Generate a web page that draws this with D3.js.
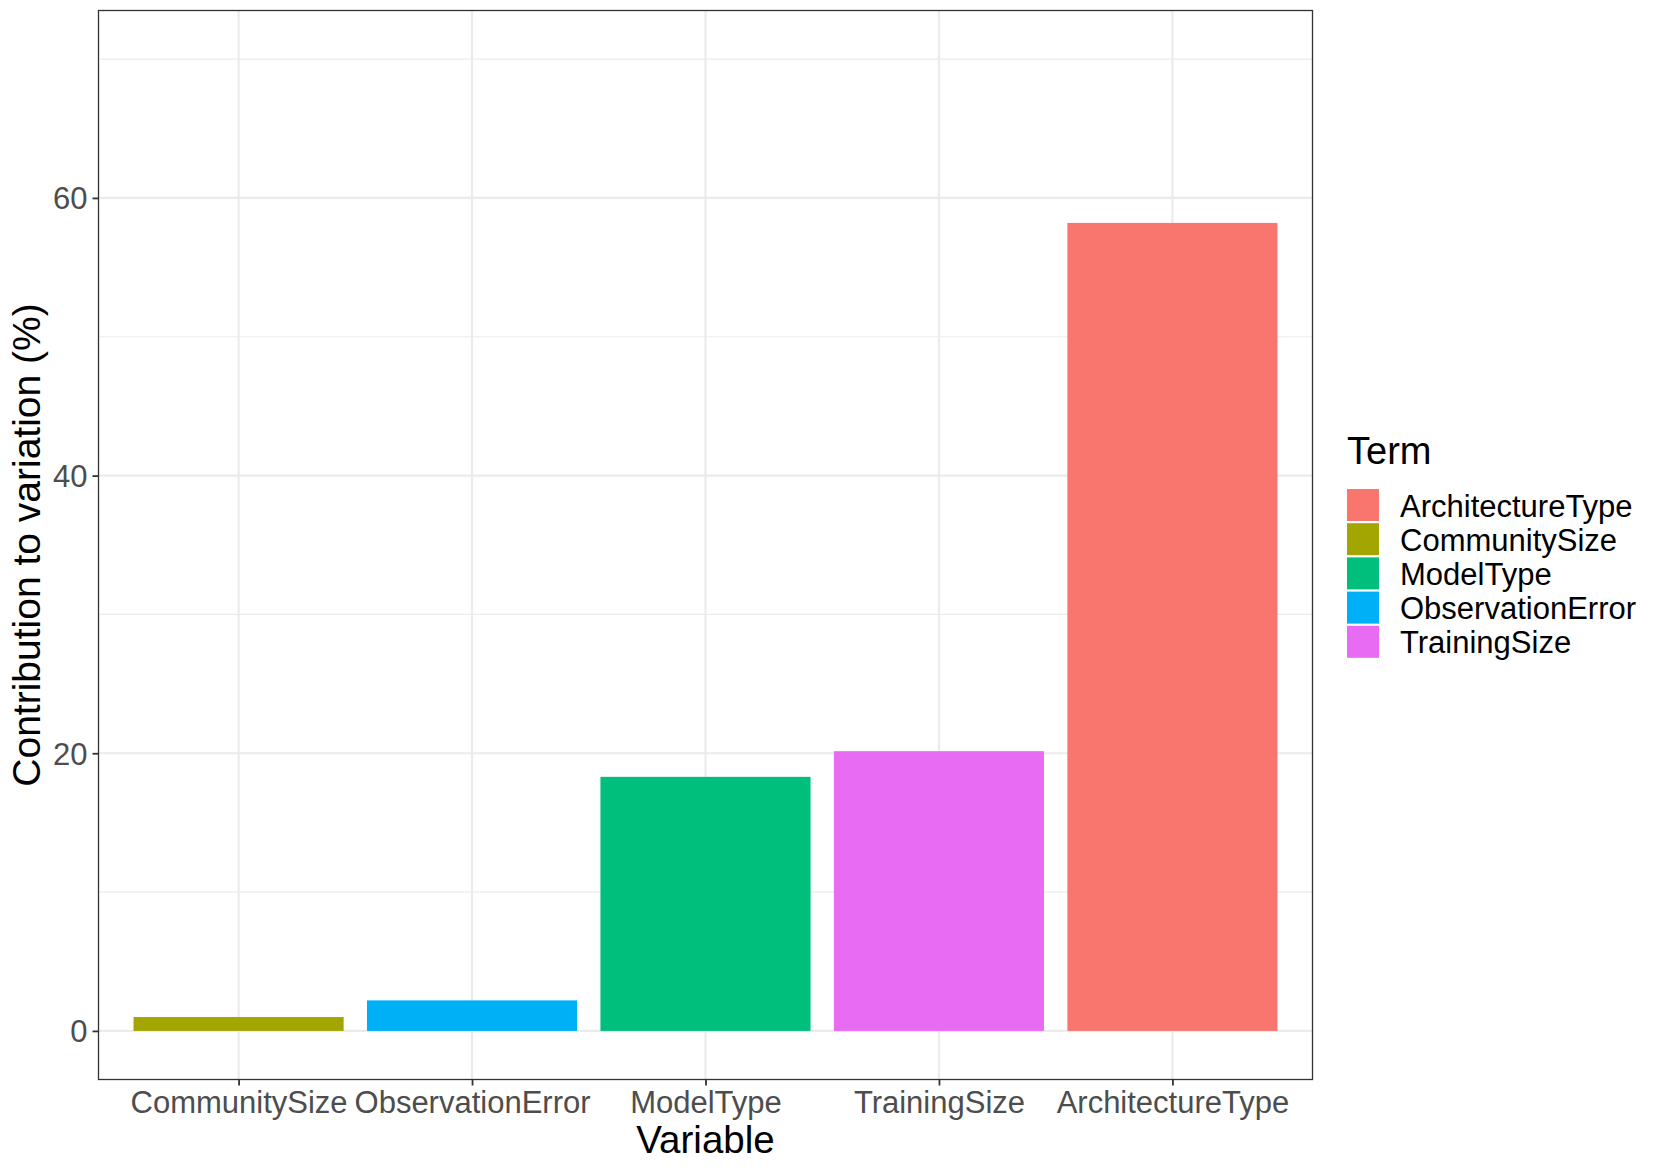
<!DOCTYPE html>
<html>
<head>
<meta charset="utf-8">
<script src="https://cdn.jsdelivr.net/npm/d3@7"></script>
<style>
  body { margin: 0; background: #fff; }
  text { font-family: "Liberation Sans", Arial, Helvetica, sans-serif; }
</style>
</head>
<body>
<svg id="svg"></svg>
<script>
'use strict';

// ---- data ----
var variables = ["CommunitySize", "ObservationError", "ModelType", "TrainingSize", "ArchitectureType"];
var contributions = [1.0, 2.2, 18.3, 20.15, 58.2];
var terms = ["ArchitectureType", "CommunitySize", "ModelType", "ObservationError", "TrainingSize"];
var termColors = ["#F8766D", "#A3A500", "#00BF7D", "#00B0F6", "#E76BF3"];
var yTicks = [0, 20, 40, 60];
var yMinor = [10, 30, 50, 70];
var yDomain = [-3.5, 73.5];

var width = 1661;
var height = 1175;
var panel = { left: 98.5, right: 1312.5, top: 10.5, bottom: 1079.5 };

var svg = d3.select("#svg")
    .attr("width", width)
    .attr("height", height);

var x = d3.scalePoint()
    .domain(variables)
    .range([panel.left, panel.right])
    .padding(0.6);
var barW = x.step() * 0.9;

var y = d3.scaleLinear()
    .domain(yDomain)
    .range([panel.bottom, panel.top]);

var color = d3.scaleOrdinal().domain(terms).range(termColors);

// ---- grid ----
var grid = svg.append("g").attr("stroke", "#EBEBEB");
grid.selectAll("line.minor")
    .data(yMinor)
    .join("line")
    .attr("x1", panel.left).attr("x2", panel.right)
    .attr("y1", d => y(d)).attr("y2", d => y(d))
    .attr("stroke-width", 1.1);
grid.selectAll("line.major")
    .data(yTicks)
    .join("line")
    .attr("x1", panel.left).attr("x2", panel.right)
    .attr("y1", d => y(d)).attr("y2", d => y(d))
    .attr("stroke-width", 2.2);
grid.selectAll("line.vx")
    .data(variables)
    .join("line")
    .attr("x1", d => x(d)).attr("x2", d => x(d))
    .attr("y1", panel.top).attr("y2", panel.bottom)
    .attr("stroke-width", 2.2);

// ---- bars ----
svg.append("g")
    .selectAll("rect")
    .data(variables)
    .join("rect")
    .attr("x", d => x(d) - barW / 2)
    .attr("width", barW)
    .attr("y", (d, i) => y(contributions[i]))
    .attr("height", (d, i) => y(0) - y(contributions[i]))
    .attr("fill", d => color(d));

// ---- panel border ----
svg.append("rect")
    .attr("x", panel.left).attr("y", panel.top)
    .attr("width", panel.right - panel.left)
    .attr("height", panel.bottom - panel.top)
    .attr("fill", "none")
    .attr("stroke", "#333333")
    .attr("stroke-width", 1.3);

// ---- axes ----
var yAxis = svg.append("g")
    .attr("transform", `translate(${panel.left},0)`)
    .call(d3.axisLeft(y).tickValues(yTicks).tickSize(6).tickPadding(5));
var xAxis = svg.append("g")
    .attr("transform", `translate(0,${panel.bottom})`)
    .call(d3.axisBottom(x).tickSize(6).tickPadding(6));

[yAxis, xAxis].forEach(ax => {
    ax.select(".domain").remove();
    ax.selectAll(".tick line").attr("stroke", "#333333").attr("stroke-width", 1.8);
    ax.selectAll(".tick text")
        .attr("fill", "#4D4D4D")
        .style("font-size", "31px");
});
yAxis.selectAll(".tick text").attr("dy", "0.35em");
xAxis.selectAll(".tick text").attr("dy", "0.68em");

// ---- titles ----
svg.append("text")
    .attr("x", (panel.left + panel.right) / 2)
    .attr("y", 1153)
    .attr("text-anchor", "middle")
    .style("font-size", "38.5px")
    .text("Variable");

svg.append("text")
    .attr("transform", `translate(40,${(panel.top + panel.bottom) / 2}) rotate(-90)`)
    .attr("text-anchor", "middle")
    .style("font-size", "39px")
    .text("Contribution to variation (%)");

// ---- legend ----
var legend = svg.append("g").attr("transform", "translate(1347,0)");
legend.append("text")
    .attr("x", 0).attr("y", 464)
    .style("font-size", "38px")
    .text("Term");

var item = legend.selectAll("g.item")
    .data(terms)
    .join("g")
    .attr("transform", (d, i) => `translate(0,${489 + i * 34.2})`);
item.append("rect")
    .attr("width", 32).attr("height", 32)
    .attr("fill", d => color(d));
item.append("text")
    .attr("x", 53).attr("y", 27.5)
    .style("font-size", "31px")
    .text(d => d);
</script>
</body>
</html>
